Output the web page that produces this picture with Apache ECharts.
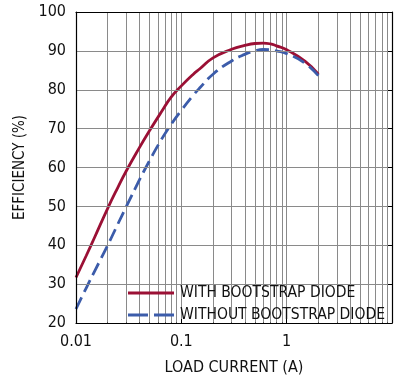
<!DOCTYPE html>
<html>
<head>
<meta charset="utf-8">
<script src="https://cdn.jsdelivr.net/npm/echarts@6/dist/echarts.min.js"></script>
<style>
  html, body { margin: 0; padding: 0; background: #fff; }
  #chart { width: 399px; height: 381px; }
</style>
</head>
<body>
<div id="chart"></div>
<script>
// ---- data ----
const loadCurrent = [0.01, 0.0125, 0.015, 0.02, 0.025, 0.03, 0.04, 0.05, 0.065, 0.08, 0.1, 0.13, 0.15, 0.2, 0.3, 0.4, 0.5, 0.6, 0.7, 0.8, 1, 1.5, 2];
const withDiode    = [31.7, 37.3, 42.0, 49.5, 54.9, 59.1, 65.1, 69.5, 74.4, 78.1, 81.0, 84.0, 85.4, 88.2, 90.4, 91.4, 91.9, 92.0, 91.8, 91.3, 90.3, 87.3, 84.0];
const withoutDiode = [23.6, 29.0, 33.3, 40.0, 45.5, 49.9, 56.8, 61.8, 67.3, 71.1, 74.7, 78.6, 80.5, 84.0, 87.4, 89.1, 90.0, 90.35, 90.3, 90.0, 89.3, 86.8, 83.6];
const seriesNames = ['WITH BOOTSTRAP DIODE', 'WITHOUT BOOTSTRAP DIODE'];
const xGridValues = [0.02,0.03,0.04,0.05,0.06,0.07,0.08,0.09,0.1,0.2,0.3,0.4,0.5,0.6,0.7,0.8,0.9,1,2,3,4,5,6,7,8,9];
const yTickValues = [20, 30, 40, 50, 60, 70, 80, 90, 100];

const FONT = "'DejaVu Sans Condensed', 'Liberation Sans Narrow', 'Liberation Sans', Arial, sans-serif";

const chart = echarts.init(document.getElementById('chart'), null, { renderer: 'canvas' });

const curveData = (ys) => loadCurrent.map((x, i) => [x, ys[i]]);

const option = {
  animation: false,
  backgroundColor: '#fff',
  grid: { left: 76, right: 7, top: 12, bottom: 54, containLabel: false },
  xAxis: [{
    type: 'log', logBase: 10, min: 0.01, max: 10, z: 10,
    name: 'LOAD CURRENT (A)', nameLocation: 'middle', nameGap: 37,
    nameTextStyle: { fontFamily: FONT, fontSize: 16, color: '#111' },
    axisLine: { show: true, lineStyle: { color: '#000', width: 1.2 } },
    axisTick: { show: true, inside: true, length: 4, lineStyle: { color: '#000' } },
    axisLabel: {
      fontFamily: FONT, fontSize: 16, color: '#111', margin: 11,
      formatter: (v) => (v >= 9.99 ? '' : String(+(+v).toPrecision(3)))
    },
    splitLine: { show: false }
  }, {
    type: 'log', logBase: 10, min: 0.01, max: 10, position: 'top', z: 10,
    axisLine: { show: true, lineStyle: { color: '#000', width: 1.2 } },
    axisTick: { show: false }, axisLabel: { show: false }, splitLine: { show: false }
  }],
  yAxis: [{
    type: 'value', min: 20, max: 100, interval: 10, z: 10,
    name: 'EFFICIENCY (%)', nameLocation: 'middle', nameGap: 45, nameRotate: 90,
    nameTextStyle: { fontFamily: FONT, fontSize: 15, color: '#111' },
    axisLine: { show: true, lineStyle: { color: '#000', width: 1.2 } },
    axisTick: { show: false },
    axisLabel: { fontFamily: FONT, fontSize: 16, color: '#111', margin: 10 },
    splitLine: { show: true, lineStyle: { color: '#8a8a8a', width: 1 } }
  }, {
    type: 'value', min: 20, max: 100, interval: 10, position: 'right', z: 10,
    axisLine: { show: true, lineStyle: { color: '#000', width: 1.2 } },
    axisTick: { show: true, inside: true, length: 4, lineStyle: { color: '#000' } },
    axisLabel: { show: false }, splitLine: { show: false }
  }],
  legend: {
    orient: 'vertical', left: 128, top: 285, padding: 0, itemGap: 6,
    itemWidth: 46, itemHeight: 14, z: 20,
    textStyle: { fontFamily: FONT, fontSize: 15.5, color: '#111', padding: [0, 0, 0, 1] },
    data: [
      { name: seriesNames[0], icon: 'path://M0,0L46,0L46,3L0,3Z', itemStyle: { color: '#9b1035' } },
      { name: seriesNames[1], icon: 'path://M0,0L20,0L20,3L0,3ZM26,0L46,0L46,3L26,3Z', itemStyle: { color: '#3c5caa' } }
    ]
  },
  graphic: {
    elements: [{
      type: 'rect', z: 3, silent: true,
      shape: { x: 120, y: 277, width: 272, height: 50 },
      style: { fill: '#fff' }
    }]
  },
  series: [
    {
      name: 'grid', type: 'line', data: [], z: 1, silent: true,
      markLine: {
        silent: true, symbol: 'none', animation: false,
        label: { show: false },
        lineStyle: { color: '#8a8a8a', width: 1, type: 'solid' },
        emphasis: { disabled: true },
        data: xGridValues.map(v => ({ xAxis: v }))
      }
    },
    {
      name: 'ticks', type: 'line', data: [], z: 6, silent: true,
      markLine: {
        silent: true, symbol: 'none', animation: false,
        label: { show: false },
        lineStyle: { color: '#000', width: 1, type: 'solid' },
        emphasis: { disabled: true },
        data: xGridValues.map(v => [{ coord: [v, 20] }, { coord: [v, 20.1] }])
      }
    },
    {
      name: seriesNames[0], type: 'line', z: 8, smooth: 0.5,
      symbol: 'none', showSymbol: false,
      lineStyle: { color: '#9b1035', width: 2.8 },
      itemStyle: { color: '#9b1035' },
      data: curveData(withDiode)
    },
    {
      name: seriesNames[1], type: 'line', z: 8, smooth: 0.5,
      symbol: 'none', showSymbol: false,
      lineStyle: { color: '#3c5caa', width: 2.8, type: [13, 6] },
      itemStyle: { color: '#3c5caa' },
      data: curveData(withoutDiode)
    }
  ]
};

chart.setOption(option);
</script>
</body>
</html>
